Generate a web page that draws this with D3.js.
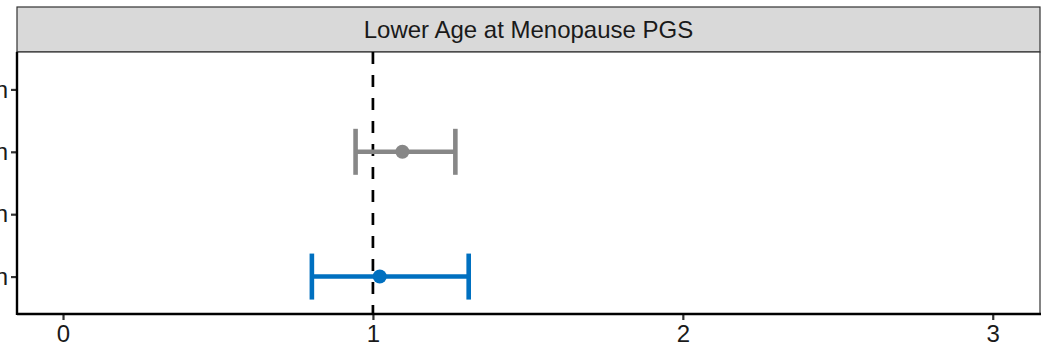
<!DOCTYPE html>
<html><head><meta charset="utf-8">
<script src="https://cdn.jsdelivr.net/npm/d3@7"></script>
<style>body{margin:0;background:#fff}svg{display:block}text{font-family:"Liberation Sans",Arial,sans-serif}</style>
</head><body>
<svg id="c" width="1050" height="360"></svg>
<script>
const categories = ["Asian", "European", "African", "Hispanic Origin"];
const estimates = [null, 1.095, null, 1.022];
const lower = [null, 0.944, null, 0.803];
const upper = [null, 1.266, null, 1.309];
const seriesColors = [null, "#878787", null, "#0070C0"];
const xTicks = [0, 1, 2, 3];
const refLine = 1;
const stripTitle = "Lower Age at Menopause PGS";

const svg = d3.select("#c");
const L = 17, R = 1040, T = 52, B = 314, stripTop = 7;
const x = d3.scaleLinear().domain([-0.1485, 3.1525]).range([L, R]);
const y = d3.scalePoint().domain(categories).range([T, B]).padding(0.6);
const fs = 24;

// strip
svg.append("rect").attr("x", L).attr("y", stripTop).attr("width", R - L).attr("height", T - stripTop)
  .attr("fill", "#D9D9D9").attr("stroke", "#333333").attr("stroke-width", 1.2);
svg.append("text").attr("x", (L + R) / 2).attr("y", (stripTop + T) / 2).attr("dy", "0.35em")
  .attr("text-anchor", "middle").attr("font-size", fs).attr("fill", "#1a1a1a").text(stripTitle);

// panel border
svg.append("rect").attr("x", L).attr("y", T).attr("width", R - L).attr("height", B - T)
  .attr("fill", "white").attr("stroke", "#333333").attr("stroke-width", 1.2);

// reference line
svg.append("line").attr("x1", x(refLine)).attr("x2", x(refLine)).attr("y1", T).attr("y2", B)
  .attr("stroke", "black").attr("stroke-width", 2.7).attr("stroke-dasharray", "12,11");

// error bars
const data = categories.map((c, i) => ({c, est: estimates[i], lo: lower[i], hi: upper[i], col: seriesColors[i]}))
  .filter(d => d.est != null);
const cap = 23;
const g = svg.append("g");
data.forEach(d => {
  const yy = y(d.c);
  g.append("line").attr("x1", x(d.lo)).attr("x2", x(d.hi)).attr("y1", yy).attr("y2", yy)
    .attr("stroke", d.col).attr("stroke-width", 4.6);
  [d.lo, d.hi].forEach(v => g.append("line").attr("x1", x(v)).attr("x2", x(v))
    .attr("y1", yy - cap).attr("y2", yy + cap).attr("stroke", d.col).attr("stroke-width", 4.6));
  g.append("circle").attr("cx", x(d.est)).attr("cy", yy).attr("r", 7).attr("fill", d.col);
});

// axes
const xAxis = svg.append("g").attr("transform", `translate(0,${B})`)
  .call(d3.axisBottom(x).tickValues(xTicks).tickFormat(d3.format("d")).tickSize(6).tickPadding(5));
xAxis.select(".domain").remove();
xAxis.selectAll(".tick line").attr("stroke", "#333333").attr("stroke-width", 2.2);
xAxis.selectAll(".tick text").attr("font-size", fs).attr("fill", "#1a1a1a");

const yAxis = svg.append("g").attr("transform", `translate(${L},0)`)
  .call(d3.axisLeft(y).tickSize(6).tickPadding(3));
yAxis.select(".domain").remove();
yAxis.selectAll(".tick line").attr("stroke", "#333333").attr("stroke-width", 2.2);
yAxis.selectAll(".tick text").attr("font-size", fs).attr("fill", "#1a1a1a");

// axis lines
svg.append("line").attr("x1", L).attr("x2", R + 1).attr("y1", B).attr("y2", B).attr("stroke", "black").attr("stroke-width", 2.4);
svg.append("line").attr("x1", L).attr("x2", L).attr("y1", T).attr("y2", B + 1).attr("stroke", "black").attr("stroke-width", 2.4);
</script>
</body></html>
